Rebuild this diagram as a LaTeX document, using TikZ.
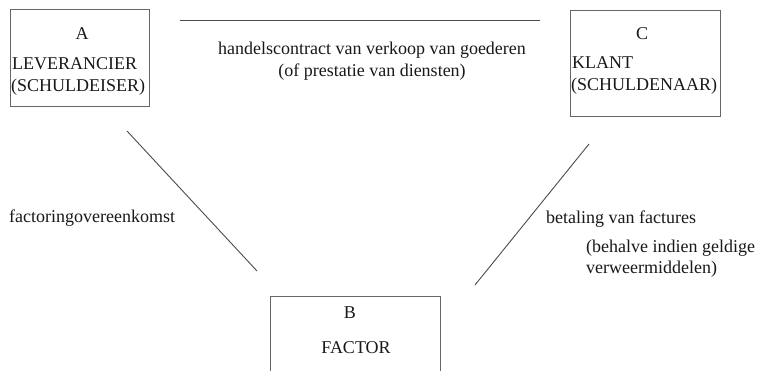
\documentclass[tikz,border=0pt]{standalone}
\usepackage{fontspec}
\setmainfont{Liberation Serif}
\begin{document}
\begin{tikzpicture}[x=1pt,y=-1pt,
  box/.style={draw=black!60,line width=1.1pt,inner sep=0pt,anchor=north west},
  lbl/.style={inner sep=0pt,anchor=base west,font=\fontsize{18}{21}\selectfont,text=black!90},
  clbl/.style={inner sep=0pt,anchor=base,font=\fontsize{18}{21}\selectfont,text=black!90},
  link/.style={draw=black!70,line width=0.9pt}]
\useasboundingbox (0,0) rectangle (764,370);
\fill[white] (0,0) rectangle (764,370);
% boxes
\node[box,minimum width=139pt,minimum height=97pt] (A) at (10,9) {};
\node[box,minimum width=150pt,minimum height=106pt] (C) at (570,10) {};
\node[box,minimum width=170pt,minimum height=90pt] (B) at (270,296) {};
% box texts
\node[clbl] (At) at (82,39) {A};
\node[lbl] (A1) at (12,69) {LEVERANCIER};
\node[lbl] (A2) at (11,91) {(SCHULDEISER)};
\node[clbl] (Ct) at (642,39) {C};
\node[lbl] (C1) at (572,68) {KLANT};
\node[lbl] (C2) at (571,90) {(SCHULDENAAR)};
\node[clbl] (Bt) at (350,318) {B};
\node[clbl] (B1) at (356,353) {FACTOR};
% connectors
\coordinate (t1) at (180,20);
\coordinate (t2) at (540,20);
\coordinate (l1) at (127,131);
\coordinate (l2) at (257,271);
\coordinate (r1) at (589,144);
\coordinate (r2) at (475,285);
\draw[link] (t1) -- (t2);
\draw[link] (l1) -- (l2);
\draw[link] (r1) -- (r2);
% labels
\node[clbl] (h1) at (372,54) {handelscontract van verkoop van goederen};
\node[clbl] (h2) at (372,76) {(of prestatie van diensten)};
\node[lbl] (f) at (9,222) {factoringovereenkomst};
\node[lbl] (b1) at (546,223) {betaling van factures};
\node[lbl] (b2) at (586,252) {(behalve indien geldige};
\node[lbl] (b3) at (586,273) {verweermiddelen)};
\end{tikzpicture}
\end{document}
